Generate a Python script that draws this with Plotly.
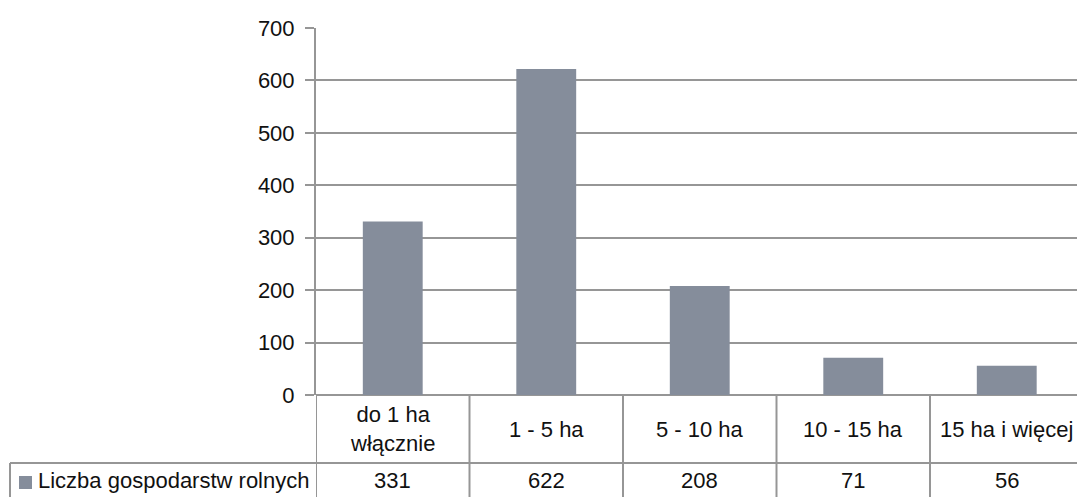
import plotly.graph_objects as go

categories = ["do 1 ha<br>włącznie", "1 - 5 ha", "5 - 10 ha", "10 - 15 ha", "15 ha i więcej"]
values = [331, 622, 208, 71, 56]
series_name = "Liczba gospodarstw rolnych"
y_ticks = [0, 100, 200, 300, 400, 500, 600, 700]

W, H = 1077, 497
L = 316
T = 28
zero_px = 395
B = H - zero_px
plot_w = W - L
plot_h = H - T - B
COL = 153.5

def px_x(x):  # page pixel -> paper
    return (x - L) / plot_w

def px_y(y):
    return (zero_px - y) / plot_h

FONT = "Liberation Sans, Arial, sans-serif"
FS = 22
LINE = "#969696"
LW = 2
TXT = "#111111"
BAR = "#858d9b"

xs = list(range(len(categories)))

fig = go.Figure()
fig.add_trace(go.Bar(x=xs, y=values, marker=dict(color=BAR, line=dict(width=0)),
                     width=0.39, showlegend=False, hoverinfo="skip"))

shapes = []
for i in range(len(categories) + 1):
    shapes.append(dict(type="line", xref="x", yref="paper", x0=i - 0.5, x1=i - 0.5,
                       y0=0, y1=px_y(510), line=dict(color=LINE, width=LW), layer="above"))
shapes.append(dict(type="line", xref="paper", yref="paper", x0=px_x(10), x1=1.0,
                   y0=px_y(463), y1=px_y(463), line=dict(color=LINE, width=LW)))
shapes.append(dict(type="line", xref="paper", yref="paper", x0=px_x(10), x1=px_x(10),
                   y0=px_y(463), y1=px_y(510), line=dict(color=LINE, width=LW)))
shapes.append(dict(type="rect", xref="paper", yref="paper", x0=px_x(19), x1=px_x(32),
                   y0=px_y(476), y1=px_y(489), fillcolor=BAR, line=dict(width=0)))

annotations = []
for i, c in enumerate(categories):
    annotations.append(dict(x=i, xref="x", y=px_y(429), yref="paper", text=c,
                            showarrow=False, xanchor="center", yanchor="middle",
                            font=dict(family=FONT, size=FS, color=TXT)))
    annotations.append(dict(x=i, xref="x", y=px_y(481), yref="paper", text=str(values[i]),
                            showarrow=False, xanchor="center", yanchor="middle",
                            font=dict(family=FONT, size=FS, color=TXT)))
annotations.append(dict(x=px_x(36), xref="paper", y=px_y(481), yref="paper", text=series_name,
                        showarrow=False, xanchor="left", yanchor="middle",
                        font=dict(family=FONT, size=FS, color=TXT)))

fig.update_layout(
    width=W, height=H,
    margin=dict(l=L, r=0, t=T, b=B, pad=0),
    paper_bgcolor="white", plot_bgcolor="white",
    shapes=shapes, annotations=annotations,
    xaxis=dict(range=[-0.5, -0.5 + plot_w / COL], showticklabels=False, showgrid=False,
               zeroline=False, showline=False, ticks=""),
    yaxis=dict(range=[0, 700], tickvals=y_ticks, showgrid=True, gridcolor=LINE, gridwidth=LW,
               zeroline=True, zerolinecolor=LINE, zerolinewidth=LW,
               showline=True, linecolor=LINE, linewidth=LW,
               ticks="outside", ticklen=9, tickcolor=LINE, tickwidth=LW,
               ticklabelstandoff=6,
               tickfont=dict(family=FONT, size=FS, color=TXT)),
    font=dict(family=FONT, size=FS, color=TXT),
)

fig.write_html("out.html", config={"displayModeBar": False, "staticPlot": True},
               post_script="document.body.style.margin='0';document.body.style.overflow='hidden';")
